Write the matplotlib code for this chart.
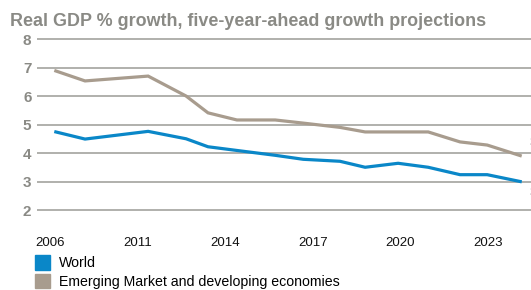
import matplotlib
matplotlib.use("Agg")
import matplotlib.pyplot as plt
from matplotlib.patches import Patch

plt.rcParams['font.family'] = ['Liberation Sans', 'DejaVu Sans']

# x positions in tick-slot units (labels sit every 3 slots)
x_pos = [0.2, 1.2, 3.36, 4.66, 5.41, 6.4, 7.71, 8.67, 9.93, 10.79, 11.92, 12.95, 14.04, 14.97, 16.1]
world = [4.74, 4.49, 4.76, 4.5, 4.22, 4.09, 3.92, 3.78, 3.71, 3.5, 3.64, 3.5, 3.24, 3.24, 3.0]
emerging = [6.88, 6.53, 6.7, 6.0, 5.41, 5.16, 5.16, 5.05, 4.9, 4.74, 4.74, 4.74, 4.39, 4.28, 3.91]
tick_pos = [0, 3, 6, 9, 12, 15]
tick_labels = ["2006", "2011", "2014", "2017", "2020", "2023"]
y_ticks = [2, 3, 4, 5, 6, 7, 8]

blue = "#0a87c8"
beige = "#a89c8e"
grey = "#8a8a85"

fig = plt.figure(figsize=(5.31, 2.90), dpi=100)
ax = fig.add_axes([37 / 531, 0.2267, 1 - 37 / 531, 0.885 - 0.2267])

for v in y_ticks:
    ax.axhline(v, color="#a3a39e", lw=1.2, zorder=1)

ax.plot(x_pos, emerging, color=beige, lw=2.3, solid_joinstyle="miter", zorder=3)
ax.plot(x_pos, world, color=blue, lw=2.3, solid_joinstyle="miter", zorder=3)

ax.text(x_pos[-1] + 0.3, emerging[-1] + 0.45, "%.1f" % emerging[-1], fontsize=9.5,
        color="#333333", va="center", ha="left", clip_on=False)
ax.text(x_pos[-1] + 0.3, world[-1] - 0.4, "%.1f" % world[-1], fontsize=9.5,
        color="#333333", va="center", ha="left", clip_on=False)

ax.set_xlim(-0.445, 16.47)
ax.set_ylim(1.5, 8.2)
ax.set_xticks(tick_pos)
ax.set_xticklabels(tick_labels, fontsize=9.5, color="#111111")
ax.set_yticks(y_ticks)
ax.set_yticklabels([str(v) for v in y_ticks], fontsize=11, fontweight="bold", color=grey)
ax.tick_params(axis="both", length=0)
ax.tick_params(axis="x", pad=9)
ax.tick_params(axis="y", pad=4)
for s in ax.spines.values():
    s.set_visible(False)

fig.text(10 / 531, 1 - 21 / 290, "Real GDP % growth, five-year-ahead growth projections",
         fontsize=12.9, fontweight="bold", color=grey, va="center", ha="left")

handles = [Patch(color=blue, label="World"),
           Patch(color=beige, label="Emerging Market and developing economies")]
fig.legend(handles=handles, loc="upper left", bbox_to_anchor=(31 / 531, 1 - 251 / 290),
           frameon=False, fontsize=10.2, handlelength=1.05, handleheight=1.2,
           handletextpad=0.6, labelspacing=0.25, borderaxespad=0, borderpad=0.3)

fig.savefig("out.png", dpi=100)
